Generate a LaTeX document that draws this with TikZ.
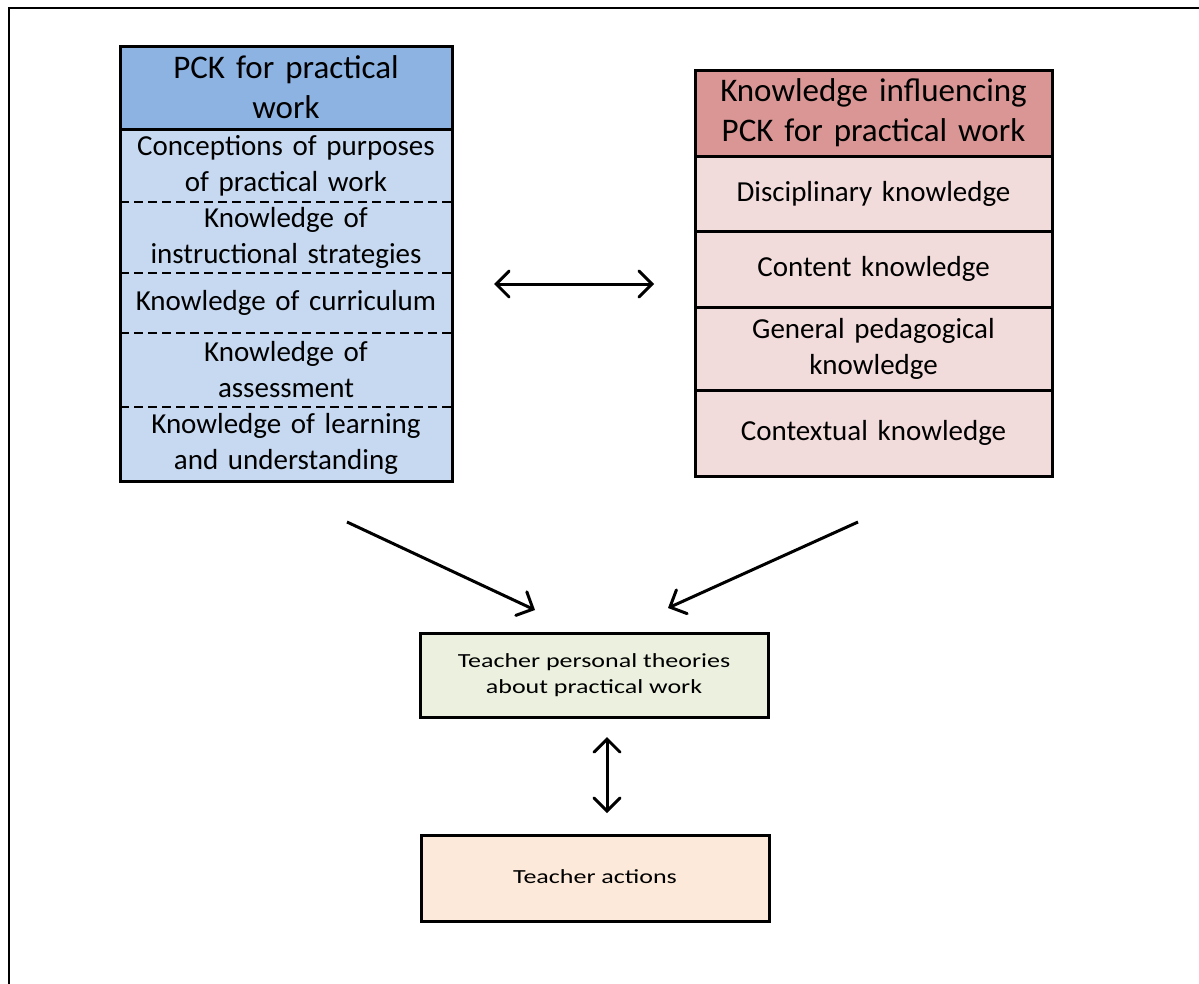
\documentclass[tikz,border=0pt]{standalone}
\usepackage{fontspec}
\usepackage{graphicx}
\setmainfont{Carlito}
\usetikzlibrary{arrows.meta}
\definecolor{pckhead}{HTML}{8DB3E2}
\definecolor{pckrow}{HTML}{C6D9F1}
\definecolor{infhead}{HTML}{D99694}
\definecolor{infrow}{HTML}{F2DCDB}
\definecolor{theory}{HTML}{EBF1DE}
\definecolor{action}{HTML}{FDE9D9}
% wide-set text used in the two lower boxes
\newcommand{\widetext}[1]{\scalebox{1.3}[1]{\begin{tabular}{@{}c@{}}#1\end{tabular}}}
\begin{document}
\begin{tikzpicture}[x=1pt,y=-1pt,
  cell/.style={inner sep=0pt, outer sep=0pt, align=center, anchor=north west},
  headtext/.style={font=\fontsize{33}{40}\selectfont},
  rowtext/.style={font=\fontsize{29}{36}\selectfont},
  smalltext/.style={font=\fontsize{20}{26}\selectfont},
  frame/.style={line width=3pt},
  sep/.style={line width=2pt, dash pattern=on 9pt off 5pt},
  link/.style={line width=3pt, -{Straight Barb[length=13pt,width=26pt,line cap=round]}},
  dlink/.style={line width=3pt, {Straight Barb[length=13pt,width=26pt,line cap=round]}-{Straight Barb[length=13pt,width=26pt,line cap=round]}}
]
\useasboundingbox (0,0) rectangle (1199,983);
% outer frame, running off the right and bottom edges
\draw[line width=2pt] (9,1010) -- (9,8) -- (1220,8);

% PCK for practical work
\node[cell, headtext, fill=pckhead, minimum width=332, minimum height=83, text width=325] (lh) at (120,46) {PCK for practical\\work};
\node[cell, rowtext, fill=pckrow, minimum width=332, minimum height=73, text width=330] (l1) at (lh.south west) {Conceptions of purposes\\of practical work};
\node[cell, rowtext, fill=pckrow, minimum width=332, minimum height=71, text width=330] (l2) at (l1.south west) {Knowledge of\\instructional strategies};
\node[cell, rowtext, fill=pckrow, minimum width=332, minimum height=60, text width=330] (l3) at (l2.south west) {Knowledge of curriculum};
\node[cell, rowtext, fill=pckrow, minimum width=332, minimum height=74, text width=330] (l4) at (l3.south west) {Knowledge of\\assessment};
\node[cell, rowtext, fill=pckrow, minimum width=332, minimum height=74, text width=330] (l5) at (l4.south west) {Knowledge of learning\\and understanding};
\draw[frame] (lh.south west) -- (lh.south east);
\foreach \r in {l1,l2,l3,l4} \draw[sep] (\r.south west) -- (\r.south east);
\draw[frame] (lh.north west) rectangle (l5.south east);

% Knowledge influencing PCK for practical work
\node[cell, headtext, fill=infhead, minimum width=357, minimum height=86, text width=355] (rh) at (695,70) {Knowledge influencing\\PCK for practical work};
\node[cell, rowtext, fill=infrow, minimum width=357, minimum height=75, text width=355] (r1) at (rh.south west) {Disciplinary knowledge};
\node[cell, rowtext, fill=infrow, minimum width=357, minimum height=76, text width=355] (r2) at (r1.south west) {Content knowledge};
\node[cell, rowtext, fill=infrow, minimum width=357, minimum height=83, text width=355] (r3) at (r2.south west) {General pedagogical\\knowledge};
\node[cell, rowtext, fill=infrow, minimum width=357, minimum height=86, text width=355] (r4) at (r3.south west) {Contextual knowledge};
\foreach \r in {rh,r1,r2,r3} \draw[frame] (\r.south west) -- (\r.south east);
\draw[frame] (rh.north west) rectangle (r4.south east);

% lower boxes
\node[cell, smalltext, fill=theory, draw, frame, minimum width=348, minimum height=84] (th) at (420,633) {\widetext{Teacher personal theories\\about practical work}};
\node[cell, smalltext, fill=action, draw, frame, minimum width=348, minimum height=86] (ta) at (421,835) {\widetext{Teacher actions}};

% connectors
\coordinate (mL) at (494,284);
\coordinate (mR) at (654,284);
\draw[dlink] (mL) -- (mR);
\coordinate (aL) at (347,522);
\coordinate (aLe) at (535,610);
\coordinate (aR) at (858,522);
\coordinate (aRe) at (668,608);
\draw[link] (aL) -- (aLe);
\draw[link] (aR) -- (aRe);
\coordinate (vT) at (607,737);
\coordinate (vB) at (607,813);
\draw[dlink] (vT) -- (vB);
\end{tikzpicture}
\end{document}
